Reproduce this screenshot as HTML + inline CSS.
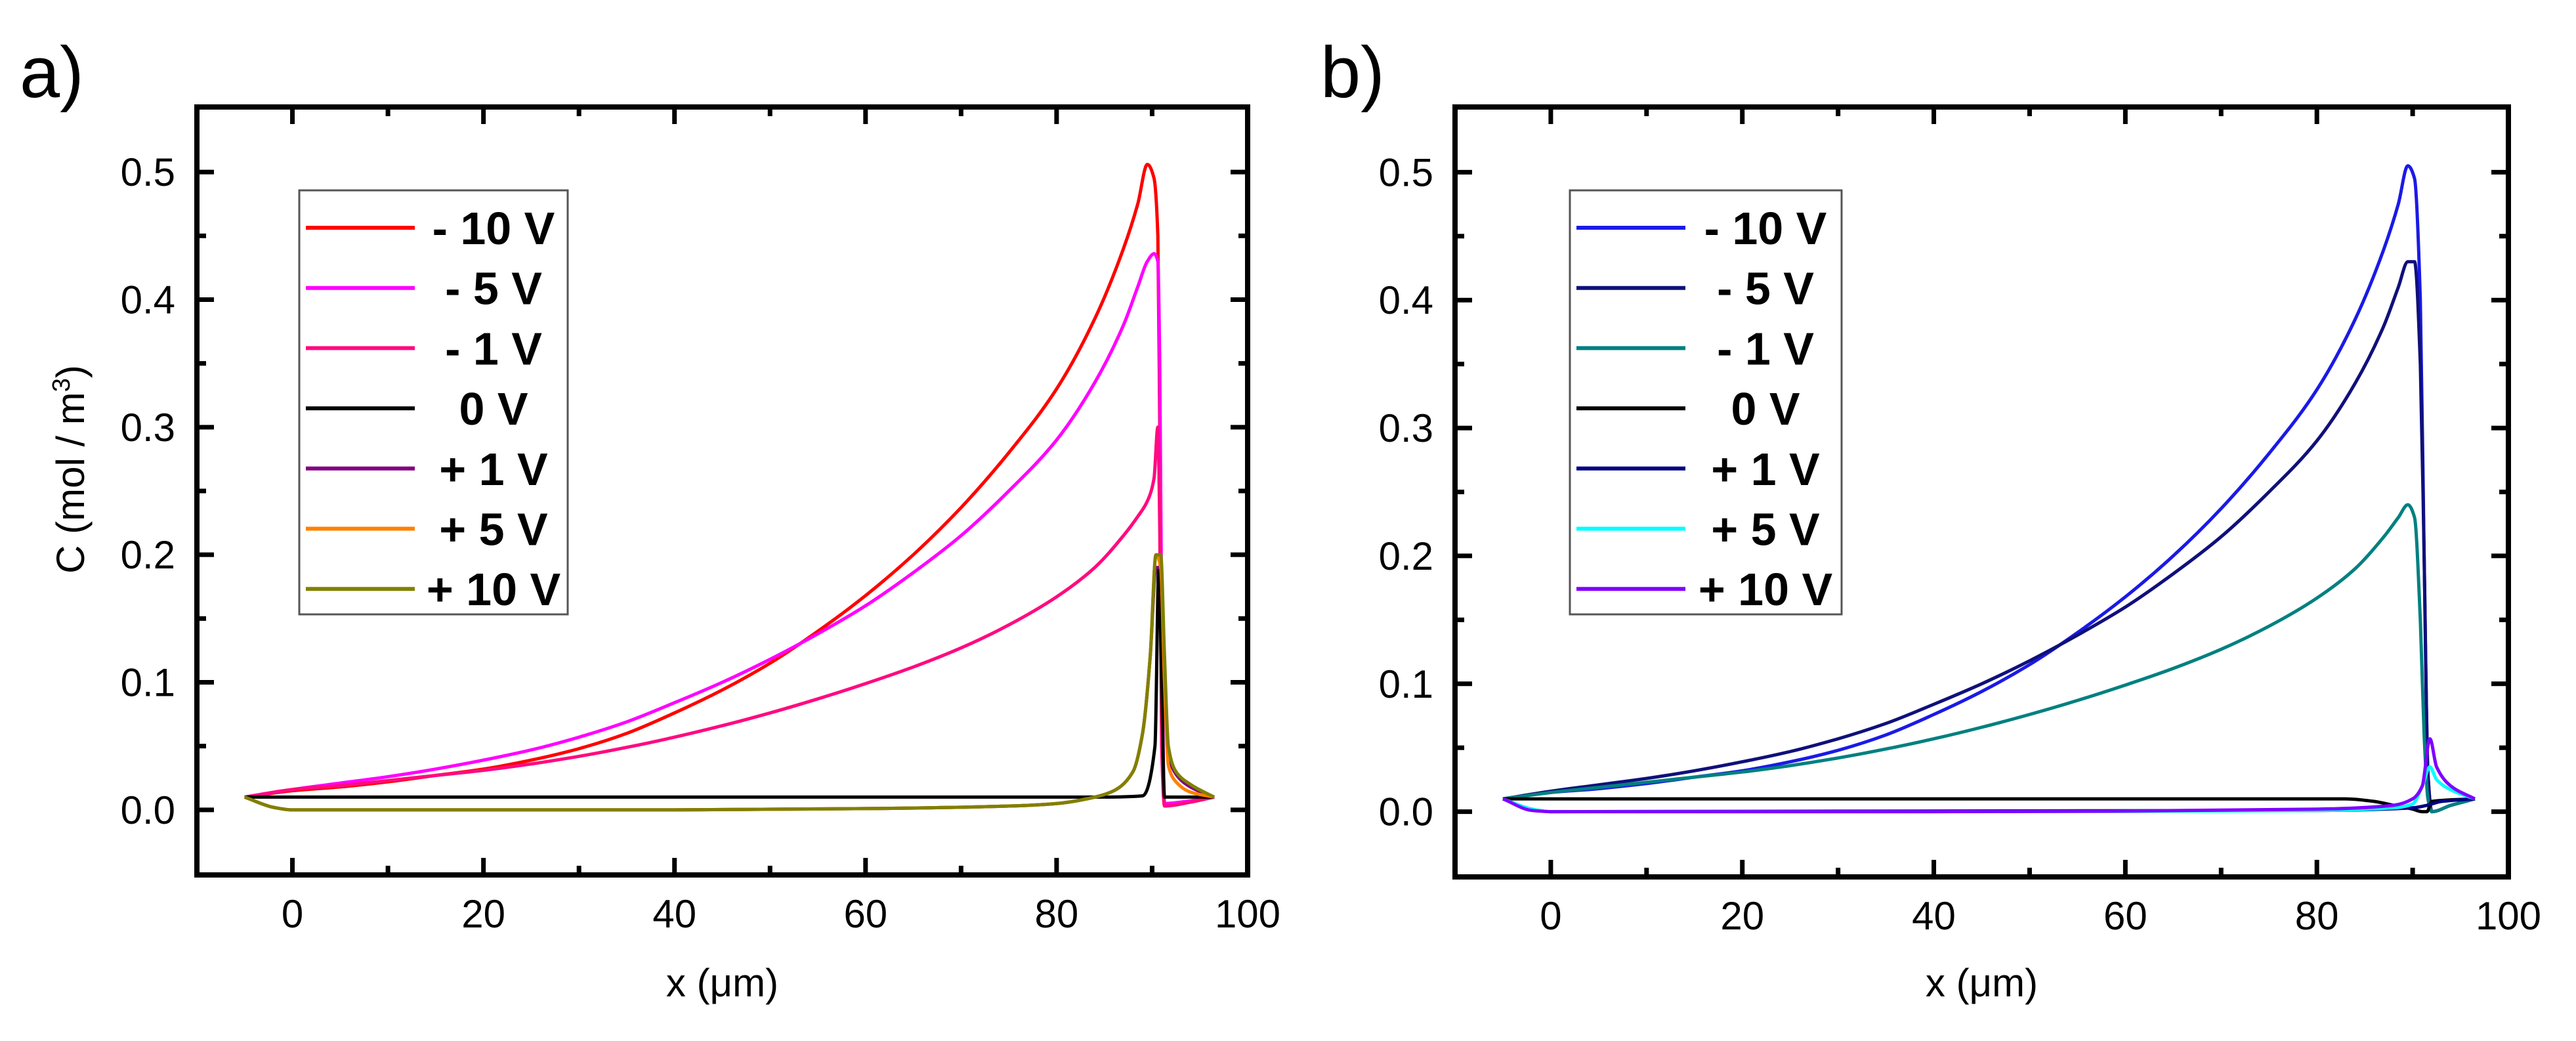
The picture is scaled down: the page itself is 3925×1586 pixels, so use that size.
<!DOCTYPE html>
<html>
<head>
<meta charset="utf-8">
<style>
  html, body { margin: 0; padding: 0; background: #fff; }
  svg { display: block; }
  text { font-family: "Liberation Sans", Arial, sans-serif; fill: #000; }
</style>
</head>
<body>
<svg id="fig" width="3925" height="1586" viewBox="0 0 3925 1586" xmlns="http://www.w3.org/2000/svg"></svg>
<script>
// ---------- shared axis data ----------
const xTickValues = [0, 20, 40, 60, 80, 100];
const xTickLabels = ["0", "20", "40", "60", "80", "100"];
const xMinorValues = [-10, 10, 30, 50, 70, 90];
const yTickValues = [0.0, 0.1, 0.2, 0.3, 0.4, 0.5];
const yTickLabels = ["0.0", "0.1", "0.2", "0.3", "0.4", "0.5"];
const yMinorValues = [-0.05, 0.05, 0.15, 0.25, 0.35, 0.45, 0.55];
const legendLabels = ["- 10 V", "- 5 V", "- 1 V", "0 V", "+ 1 V", "+ 5 V", "+ 10 V"];

// ---------- panel a series ----------
const aXNeg = [-5,0,5,10,15,20,25,30,35,40,45,50,55,60,65,70,75,80,84,87,88.5,89.5,90.2,90.6,90.8,91,91.3,94,96.5];
const aYNeg10 = [.01,.015,.018,.022,.027,.032,.039,.048,.06,.076,.094,.115,.14,.168,.2,.237,.28,.33,.385,.44,.475,.506,.495,.45,.3,.1,.005,.007,.01];
const aYNeg5 = [.01,.016,.021,.026,.032,.039,.047,.057,.069,.084,.1,.118,.138,.16,.186,.215,.25,.29,.335,.38,.41,.43,.436,.43,.35,.15,.005,.007,.01];
const aYNeg1 = [.01,.016,.019,.023,.027,.031,.036,.042,.049,.057,.066,.076,.087,.099,.112,.127,.145,.167,.19,.215,.23,.242,.26,.3,.22,.05,.003,.006,.01];
const aX0 = [-5,85,89,90.3,90.7,91,91.3,96.5];
const aY0 = [.01,.01,.011,.05,.19,.1,.01,.01];
const aXPos = [-5,-2,0,20,40,60,75,80,84,86,88,89,89.8,90.4,90.9,91.3,91.7,92.5,94,96.5];
const aYPos1 = [.01,.002,0,0,0,.001,.003,.005,.01,.015,.03,.06,.12,.19,.19,.11,.045,.028,.018,.01];
const aYPos5 = [.01,.002,0,0,0,.001,.003,.005,.01,.015,.03,.06,.12,.2,.19,.1,.035,.022,.014,.01];
const aYPos10 = [.01,.002,0,0,0,.001,.003,.005,.01,.015,.03,.06,.12,.2,.2,.12,.05,.03,.02,.01];

// ---------- panel b series ----------
const bXNeg = [-5,0,5,10,15,20,25,30,35,40,45,50,55,60,65,70,75,80,84,87,88.5,89.5,90.2,90.8,91.2,91.6,92,94,96.5];
const bYNeg10 = [.01,.015,.018,.022,.027,.032,.039,.048,.06,.076,.094,.115,.14,.168,.2,.237,.28,.33,.385,.44,.475,.505,.495,.4,.2,.03,0,.005,.01];
const bYNeg5 = [.01,.016,.021,.026,.032,.039,.047,.057,.069,.084,.1,.118,.138,.16,.186,.215,.25,.29,.335,.38,.41,.43,.43,.35,.2,.03,0,.005,.01];
const bYNeg1 = [.01,.015,.019,.023,.027,.031,.036,.042,.049,.057,.066,.076,.087,.099,.112,.127,.145,.167,.19,.215,.23,.24,.23,.15,.06,.01,0,.005,.01];
const bX0 = [-5,83,86,88,90,91,91.5,92,96.5];
const bY0 = [.01,.01,.008,.005,.002,0,0,.008,.01];
const bXPos1 = [-5,-2,0,80,90,91.5,93,96.5];
const bYPos1 = [.01,.002,0,.001,.003,.005,.008,.01];
const bXPos = [-5,-2,0,40,80,88,90,91,91.8,92.5,94,96.5];
const bYPos5 = [.01,.002,0,0,.001,.003,.006,.02,.035,.025,.017,.01];
const bYPos10 = [.01,.001,0,0,.002,.005,.01,.02,.057,.035,.02,.01];

const NS = "http://www.w3.org/2000/svg";
const svg = document.getElementById("fig");

function mk(tag, attrs, parent) {
  const e = document.createElementNS(NS, tag);
  for (const k in attrs) e.setAttribute(k, attrs[k]);
  (parent || svg).appendChild(e);
  return e;
}

// monotone cubic (Fritsch-Carlson) path in pixel space
function monoPath(px, py) {
  const n = px.length;
  if (n < 2) return "";
  const d = [], m = new Array(n);
  for (let i = 0; i < n - 1; i++) d.push((py[i + 1] - py[i]) / (px[i + 1] - px[i]));
  m[0] = d[0]; m[n - 1] = d[n - 2];
  for (let i = 1; i < n - 1; i++) {
    if (d[i - 1] * d[i] <= 0) m[i] = 0;
    else {
      const h0 = px[i] - px[i - 1], h1 = px[i + 1] - px[i];
      const w1 = 2 * h1 + h0, w2 = h1 + 2 * h0;
      m[i] = (w1 + w2) / (w1 / d[i - 1] + w2 / d[i]);
    }
  }
  let s = "M" + px[0].toFixed(1) + "," + py[0].toFixed(1);
  for (let i = 0; i < n - 1; i++) {
    const h = (px[i + 1] - px[i]) / 3;
    s += " C" + (px[i] + h).toFixed(1) + "," + (py[i] + m[i] * h).toFixed(1) + " " +
         (px[i + 1] - h).toFixed(1) + "," + (py[i + 1] - m[i + 1] * h).toFixed(1) + " " +
         px[i + 1].toFixed(1) + "," + py[i + 1].toFixed(1);
  }
  return s;
}

function drawPanel(p) {
  const L = p.left, R = p.right, T = p.top, B = p.bottom;
  const xMin = -10, xMax = 100, yMin = -0.051, yMax = 0.551;
  const sx = v => L + (v - xMin) / (xMax - xMin) * (R - L);
  const sy = v => B - (v - yMin) / (yMax - yMin) * (B - T);

  const g = mk("g", {});
  
  

  const lab = mk("text", {x: p.letterX, y: 148, "font-size": 110}, g);
  lab.textContent = p.letter;
  
  

  const sg = mk("g", {fill: "none", "stroke-width": 5, "stroke-linejoin": "round"}, g);
  
  
  p.series.forEach(s => {
    const px = s.xs.map(sx), py = s.ys.map(sy);
    const pl = mk("path", {d: monoPath(px, py), stroke: s.color}, sg);
    
    
  });

  const fr = mk("rect", {x: L, y: T, width: R - L, height: B - T, fill: "none", stroke: "#000", "stroke-width": 8}, g);
  
  

  const tg = mk("g", {stroke: "#000", "stroke-width": 7}, g);
  
  
  xTickValues.forEach(v => {
    const x = sx(v);
    mk("line", {x1: x, y1: B, x2: x, y2: B - 26}, tg);
    mk("line", {x1: x, y1: T, x2: x, y2: T + 26}, tg);
  });
  xMinorValues.forEach(v => {
    const x = sx(v);
    if (x <= L + 2) return;
    mk("line", {x1: x, y1: B, x2: x, y2: B - 14}, tg);
    mk("line", {x1: x, y1: T, x2: x, y2: T + 14}, tg);
  });
  yTickValues.forEach(v => {
    const y = sy(v);
    mk("line", {x1: L, y1: y, x2: L + 26, y2: y}, tg);
    mk("line", {x1: R, y1: y, x2: R - 26, y2: y}, tg);
  });
  yMinorValues.forEach(v => {
    const y = sy(v);
    if (y >= B - 2 || y <= T + 2) return;
    mk("line", {x1: L, y1: y, x2: L + 14, y2: y}, tg);
    mk("line", {x1: R, y1: y, x2: R - 14, y2: y}, tg);
  });

  xTickValues.forEach((v, i) => {
    const t = mk("text", {x: sx(v), y: B + 80, "font-size": 60, "text-anchor": "middle"}, g);
    t.textContent = xTickLabels[i];
    
    
  });
  yTickValues.forEach((v, i) => {
    const t = mk("text", {x: L - 33, y: sy(v) + 21, "font-size": 60, "text-anchor": "end"}, g);
    t.textContent = yTickLabels[i];
    
    
  });

  const xt = mk("text", {x: (L + R) / 2, y: 1518, "font-size": 60, "text-anchor": "middle"}, g);
  xt.textContent = "x (\u03bcm)";
  
  

  if (p.yTitle) {
    const yt = mk("text", {x: 0, y: 0, "font-size": 60, "text-anchor": "middle", transform: "translate(128,715) rotate(-90)"}, g);
    yt.innerHTML = 'C (mol / m<tspan dy="-22" font-size="38">3</tspan><tspan dy="22">)</tspan>';
    
    
  }

  const lg = mk("g", {}, g);
  
  
  const lb = mk("rect", {x: p.legL, y: 290, width: p.legR - p.legL, height: 646, fill: "#fff", stroke: "#555", "stroke-width": 3}, lg);
  
  
  legendLabels.forEach((txt, i) => {
    const y = 347 + i * 91.7;
    const e = mk("g", {}, lg);
    
    
    mk("line", {x1: p.legL + 10, y1: y, x2: p.legL + 176, y2: y, stroke: p.series[i].color, "stroke-width": 6}, e);
    const t = mk("text", {x: p.legTextX, y: y + 25, "font-size": 70, "font-weight": "bold", "text-anchor": "middle"}, e);
    t.textContent = txt;
  });
}

drawPanel({
  name: "panel-a", letter: "a)", letterX: 30, yTitle: true,
  left: 300, right: 1901, top: 163, bottom: 1333,
  legL: 456, legR: 865, legTextX: 752,
  series: [
    {name: "series-a-minus-10v", color: "#ff0000", xs: aXNeg, ys: aYNeg10},
    {name: "series-a-minus-5v", color: "#ff00ff", xs: aXNeg, ys: aYNeg5},
    {name: "series-a-minus-1v", color: "#ff0a80", xs: aXNeg, ys: aYNeg1},
    {name: "series-a-0v", color: "#000000", xs: aX0, ys: aY0},
    {name: "series-a-plus-1v", color: "#800080", xs: aXPos, ys: aYPos1},
    {name: "series-a-plus-5v", color: "#ff8000", xs: aXPos, ys: aYPos5},
    {name: "series-a-plus-10v", color: "#808000", xs: aXPos, ys: aYPos10}
  ]
});

drawPanel({
  name: "panel-b", letter: "b)", letterX: 2012, yTitle: false,
  left: 2217, right: 3822, top: 163, bottom: 1336,
  legL: 2392, legR: 2806, legTextX: 2690,
  series: [
    {name: "series-b-minus-10v", color: "#1a1ae6", xs: bXNeg, ys: bYNeg10},
    {name: "series-b-minus-5v", color: "#10107a", xs: bXNeg, ys: bYNeg5},
    {name: "series-b-minus-1v", color: "#008080", xs: bXNeg, ys: bYNeg1},
    {name: "series-b-0v", color: "#000000", xs: bX0, ys: bY0},
    {name: "series-b-plus-1v", color: "#000080", xs: bXPos1, ys: bYPos1},
    {name: "series-b-plus-5v", color: "#00ffff", xs: bXPos, ys: bYPos5},
    {name: "series-b-plus-10v", color: "#8000ff", xs: bXPos, ys: bYPos10}
  ]
});
</script>
</body>
</html>
